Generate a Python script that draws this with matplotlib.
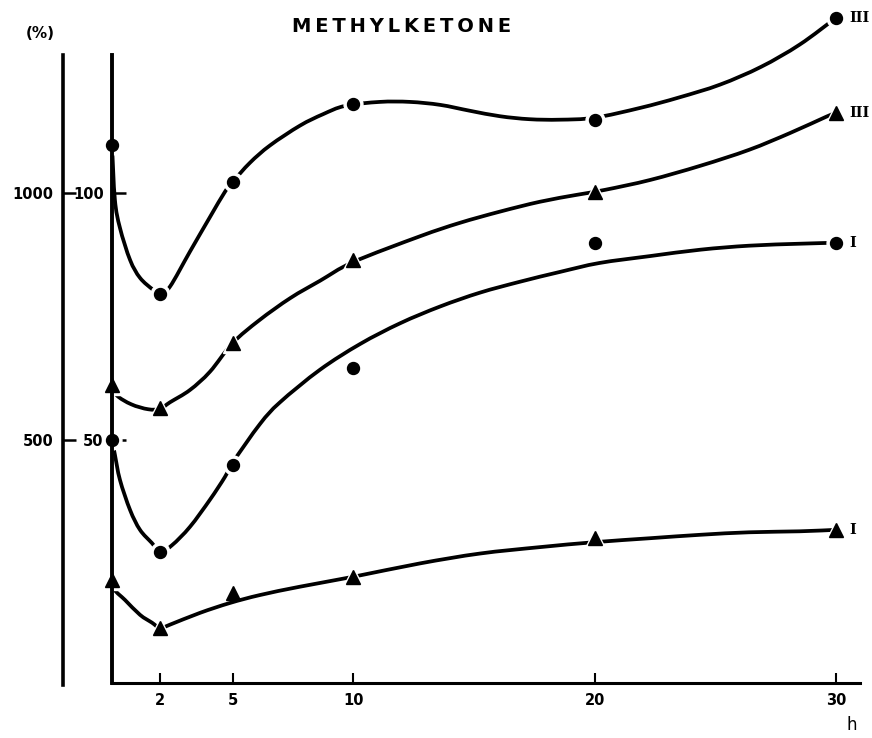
import matplotlib
matplotlib.use('Agg')
import matplotlib.pyplot as plt
from matplotlib.path import Path
from matplotlib.patches import PathPatch

plt.rcParams['font.family'] = ['DejaVu Sans']
plt.rcParams['font.weight'] = 'bold'

# measured points (h)
hours = [0, 2, 5, 10, 20, 30]
circ_III = [109.7, 79.6, 102.2, 118.0, 114.8, 135.4]
tri_III = [61.1, 56.5, 69.6, 86.4, 100.2, 116.2]
circ_I = [50.0, 27.3, 44.9, 64.6, 89.9, 89.9]
tri_I = [21.7, 11.9, 19.0, 22.3, 30.2, 31.8]

# hand drawn curves
cx_circ_III = [0, 0.12, 0.33, 0.75, 1.16, 1.7, 2.0, 2.4, 3.23, 4.06, 4.68, 5.0, 5.72, 6.55,
               7.79, 8.74, 9.66, 11.1, 12.35, 13.6, 14.84, 16.08, 17.3, 18.55, 20.0,
               21.9, 23.5, 25.2, 26.9, 28.5, 30.0]
cy_circ_III = [109.7, 98.6, 92.9, 86.4, 82.8, 80.4, 79.6, 81.0, 88.1, 95.1, 100.2, 102.2, 106.1, 109.6,
               113.6, 115.9, 117.6, 118.4, 118.4, 117.8, 116.6, 115.5, 114.9, 114.8, 115.2,
               117.2, 119.3, 121.9, 125.5, 130.0, 135.4]

cx_tri_III = [0, 0.2, 0.8, 1.5, 2.0, 2.4, 3.23, 4.06, 5.0, 6.1, 7.39, 8.62, 10.0,
              12.76, 14.4, 16.08, 17.74, 19.27, 20.43, 22.3, 24.4, 26.4, 28.1, 29.6, 30.0]
cy_tri_III = [61.1, 59.0, 57.2, 56.2, 56.3, 57.6, 60.1, 63.8, 69.6, 74.2, 78.7, 82.2, 86.0,
              91.2, 93.9, 96.2, 98.2, 99.6, 100.6, 102.6, 105.5, 108.7, 112.1, 115.4, 116.2]

cx_circ_I = [0, 0.12, 0.33, 0.75, 1.16, 1.66, 2.0, 2.49, 3.23, 4.06, 4.68, 5.0, 6.13, 6.96,
             8.62, 10.28, 11.94, 13.6, 15.25, 16.9, 18.57, 20.2, 22.3, 24.4, 26.4, 28.5, 30.0]
cy_circ_I = [50.0, 47.0, 41.9, 35.8, 31.8, 29.1, 27.3, 28.7, 32.4, 37.9, 42.5, 45.4, 53.2, 57.6,
             64.2, 69.4, 73.6, 77.0, 79.8, 82.0, 84.0, 85.8, 87.2, 88.5, 89.3, 89.7, 89.9]

cx_tri_I = [0, 0.12, 0.54, 1.16, 1.66, 2.0, 2.4, 3.65, 4.89, 6.13, 7.8, 10.0,
            12.76, 15.25, 17.74, 20.0, 22.3, 24.4, 26.4, 28.5, 30.0]
cy_tri_I = [21.7, 19.6, 17.6, 14.6, 13.0, 11.9, 12.6, 15.0, 17.0, 18.6, 20.3, 22.3,
            25.0, 27.0, 28.3, 29.3, 30.1, 30.8, 31.3, 31.5, 31.8]

end_labels = ['III', 'III', 'I', 'I']


def smooth_path(xs, ys):
    # Catmull-Rom through the read points, handed to matplotlib as cubic Beziers
    pts = list(zip(xs, ys))
    verts = [pts[0]]
    codes = [Path.MOVETO]
    n = len(pts)
    for i in range(n - 1):
        p0 = pts[i - 1] if i > 0 else pts[i]
        p1 = pts[i]
        p2 = pts[i + 1]
        p3 = pts[i + 2] if i + 2 < n else pts[i + 1]
        c1 = (p1[0] + (p2[0] - p0[0]) / 6, p1[1] + (p2[1] - p0[1]) / 6)
        c2 = (p2[0] - (p3[0] - p1[0]) / 6, p2[1] - (p3[1] - p1[1]) / 6)
        verts += [c1, c2, p2]
        codes += [Path.CURVE4] * 3
    return Path(verts, codes)


fig = plt.figure(figsize=(8.72, 7.38), dpi=100)
ax = fig.add_axes([112 / 872, 55 / 738, 748 / 872, 673 / 738])
ax.set_xlim(0, 31)
ax.set_ylim(0.8, 137)

series = [
    (cx_circ_III, cy_circ_III, circ_III, 'o'),
    (cx_tri_III, cy_tri_III, tri_III, '^'),
    (cx_circ_I, cy_circ_I, circ_I, 'o'),
    (cx_tri_I, cy_tri_I, tri_I, '^'),
]
for i, (cx, cy, pts, mk) in enumerate(series):
    ax.add_patch(PathPatch(smooth_path(cx, cy), fill=False, edgecolor='black', lw=2.7,
                           capstyle='butt', zorder=1.5, clip_on=False))
    ms = 8.6 if mk == 'o' else 9.5
    # white halo gives the little gaps where the pen stopped at each marker
    hx = [h for j, h in enumerate(hours) if not (i == 3 and j == 2)]
    hy = [v for j, v in enumerate(pts) if not (i == 3 and j == 2)]
    ax.plot(hx, hy, ls='none', marker=mk, ms=ms + 5, color='white', zorder=2, clip_on=False)
    ax.plot(hours, pts, ls='none', marker=mk, ms=ms, color='black', zorder=3, clip_on=False)
    ax.text(30.55, pts[-1], end_labels[i], family='DejaVu Serif', fontsize=10.5,
            ha='left', va='center')

for s in ['top', 'right']:
    ax.spines[s].set_visible(False)
ax.spines['left'].set_linewidth(2.8)
ax.spines['left'].set_bounds(0.8, 127.9)
ax.spines['bottom'].set_linewidth(2.2)

ax.set_xticks([2, 5, 10, 20, 30])
ax.set_xticklabels(['2', '5', '10', '20', '30'])
ax.set_yticks([50, 100])
ax.set_yticklabels(['50', '100'])
ax.tick_params(axis='x', direction='in', length=7, width=1.5, pad=7, labelsize=10.5)
ax.tick_params(axis='y', direction='in', length=10, width=1.8, pad=6, labelsize=10.5)

# outer scale (x10)
ax2 = ax.twinx()
ax2.set_ylim(8, 1370)
ax2.yaxis.set_ticks_position('left')
ax2.yaxis.set_label_position('left')
for s in ['top', 'right', 'bottom']:
    ax2.spines[s].set_visible(False)
ax2.spines['left'].set_visible(True)
ax2.spines['left'].set_position(('outward', 35.3))
ax2.spines['left'].set_linewidth(2.6)
ax2.spines['left'].set_bounds(4, 1279)
ax2.set_yticks([500, 1000])
ax2.set_yticklabels(['500', '1000'])
ax2.tick_params(axis='y', direction='in', length=9, width=1.8, pad=7, labelsize=10.5)

fig.text(402 / 872, 1 - 27 / 738, 'M\u2009E\u2009T\u2009H\u2009Y\u2009L\u2009K\u2009E\u2009T\u2009O\u2009N\u2009E',
         ha='center', va='center', fontsize=14)
fig.text(40 / 872, 1 - 33 / 738, '(%)', ha='center', va='center', fontsize=11)
fig.text(852 / 872, 1 - 725 / 738, 'h', ha='center', va='center', fontsize=12, fontweight='normal')

fig.savefig('out.png', dpi=100)
